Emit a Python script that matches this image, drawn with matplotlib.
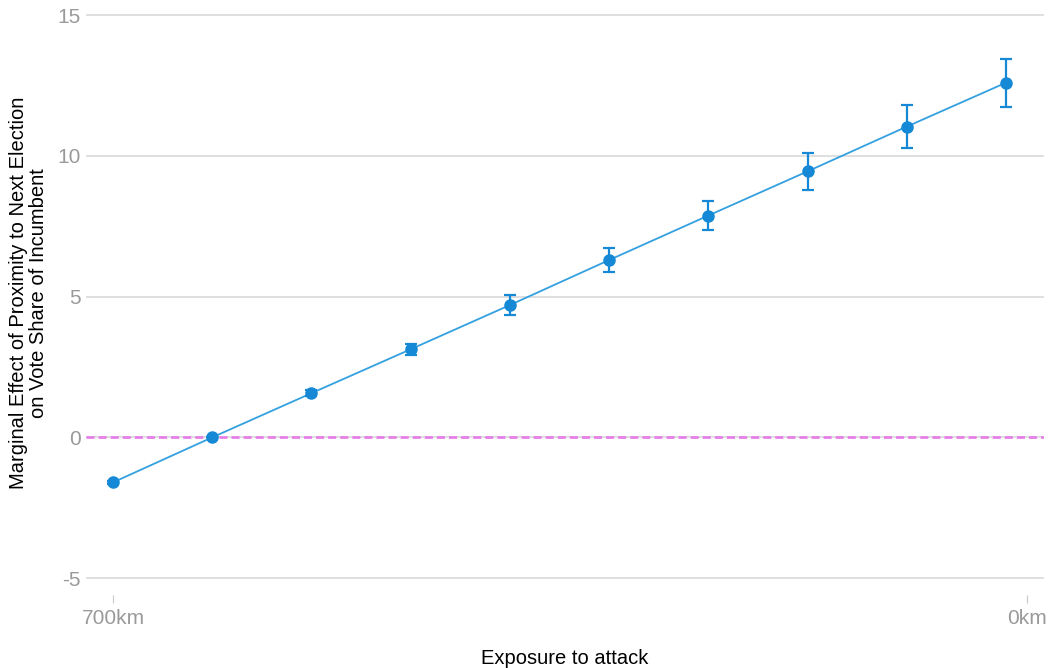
import matplotlib.pyplot as plt

# data
distance_km = [700, 624, 548, 472, 396, 320, 244, 168, 92, 16]
effect = [-1.60, 0.0, 1.57, 3.13, 4.70, 6.30, 7.88, 9.45, 11.04, 12.60]
err = [0.05, 0.0, 0.10, 0.20, 0.34, 0.43, 0.53, 0.66, 0.75, 0.85]
y_ticks = [-5, 0, 5, 10, 15]
x_ticks = [700, 0]
x_tick_labels = ['700km', '0km']

plt.rcParams['font.family'] = ['Liberation Sans', 'DejaVu Sans']

fig = plt.figure(figsize=(10.54, 6.68), dpi=100)
ax = fig.add_axes([86 / 1054, (668 - 595) / 668, (1044 - 86) / 1054, (595 - 10) / 668])

# grid
for t in y_ticks:
    ax.axhline(t, color='#d9d9d9', lw=1.2, zorder=0)

# zero reference line
ax.axhline(0, color='#e680e8', lw=2, dashes=(2.9, 1.45), zorder=1)

ax.plot(distance_km, effect, color='#33a0e0', lw=1.3, zorder=2)
ax.errorbar(distance_km, effect, yerr=err, fmt='o', color='#1589d6',
            markersize=8, elinewidth=1.6, capsize=4, capthick=1.6, zorder=3)

ax.set_xlim(720.7, -13)
ax.set_ylim(-5.6, 15.18)
ax.set_yticks(y_ticks)
ax.set_yticklabels([str(t) for t in y_ticks])
ax.set_xticks(x_ticks)
ax.set_xticklabels(x_tick_labels)

for s in ax.spines.values():
    s.set_visible(False)

ax.tick_params(axis='y', length=0, pad=4, labelsize=15, labelcolor='#9a9a9a')
ax.tick_params(axis='x', length=6, width=0.8, color='#c8c8c8', pad=4,
               labelsize=15, labelcolor='#9a9a9a')

ax.set_xlabel('Exposure to attack', fontsize=14.5, labelpad=15)
ax.set_ylabel('Marginal Effect of Proximity to Next Election\non Vote Share of Incumbent',
              fontsize=14.5, linespacing=1.05)
ax.yaxis.set_label_coords(-0.0397, 0.516)

plt.savefig('out.png', dpi=100)
